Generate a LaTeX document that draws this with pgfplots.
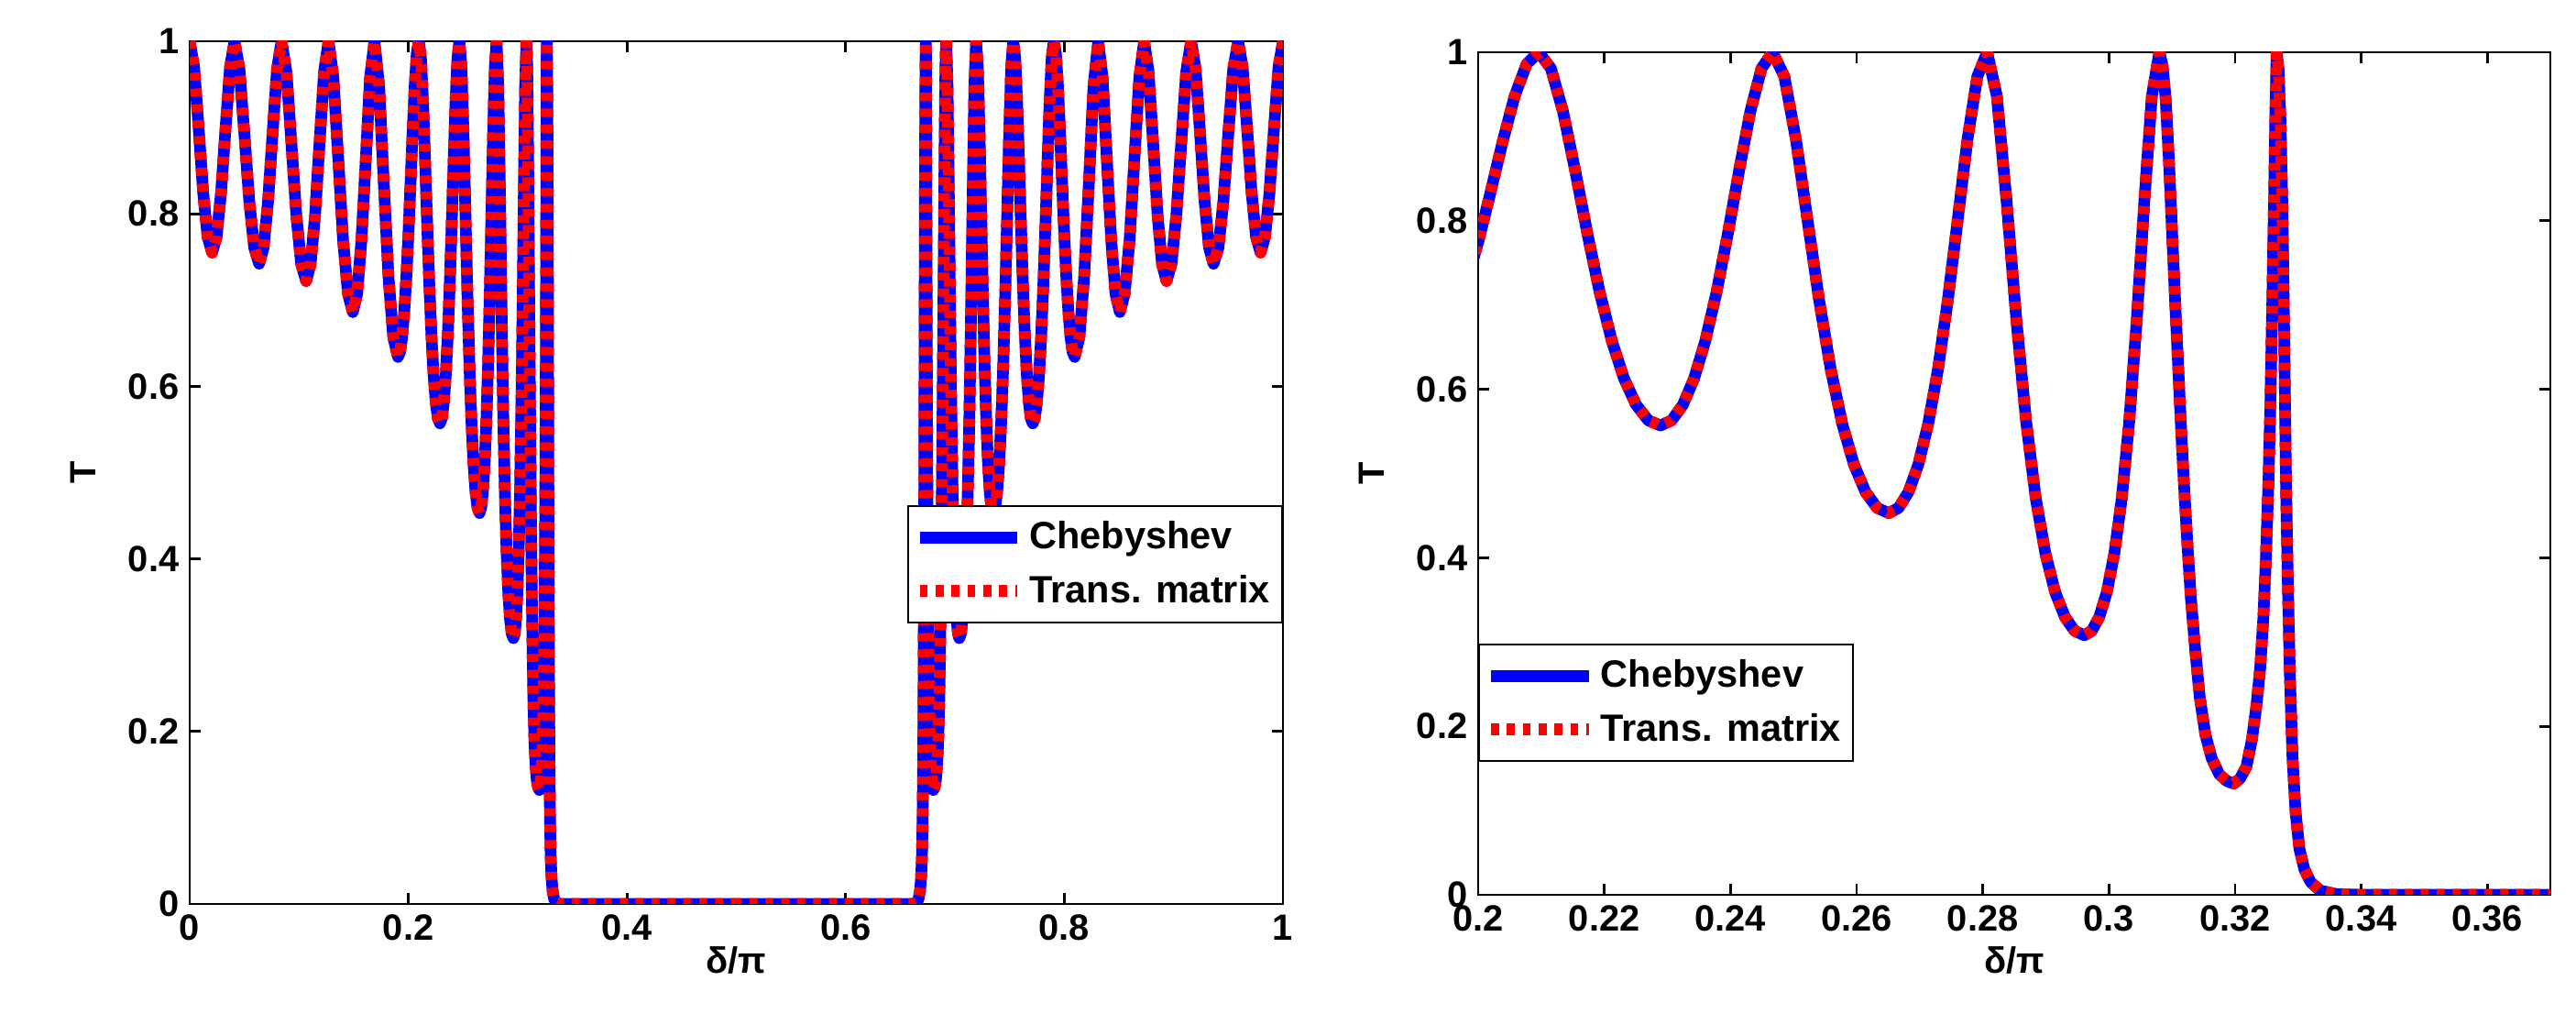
\documentclass[border=0pt]{standalone}
\usepackage{fontspec}
\setmainfont{Liberation Sans}
\usepackage{pgfplots}
\pgfplotsset{compat=1.18}
\usepackage{pgfplotstable}

% Transmission T versus delta/pi in the first pass band (0 ... 1/3);
% the second pass band is its mirror image about delta/pi = 0.5
\pgfplotstableread{
d T
0.0000 1.0000
0.0041 0.9699
0.0082 0.8992
0.0123 0.8248
0.0164 0.7731
0.0205 0.7550
0.0246 0.7731
0.0287 0.8248
0.0328 0.8992
0.0369 0.9699
0.0410 1.0000
0.0455 0.9679
0.0500 0.8928
0.0545 0.8146
0.0590 0.7607
0.0635 0.7420
0.0676 0.7607
0.0717 0.8146
0.0758 0.8928
0.0799 0.9679
0.0840 1.0000
0.0885 0.9645
0.0930 0.8826
0.0975 0.7987
0.1020 0.7417
0.1065 0.7220
0.1106 0.7417
0.1147 0.7987
0.1188 0.8826
0.1229 0.9645
0.1270 1.0000
0.1314 0.9581
0.1359 0.8635
0.1403 0.7695
0.1448 0.7072
0.1492 0.6860
0.1532 0.7072
0.1571 0.7695
0.1611 0.8635
0.1650 0.9581
0.1690 1.0000
0.1733 0.9478
0.1776 0.8337
0.1819 0.7258
0.1862 0.6569
0.1905 0.6340
0.19241 0.6397
0.19432 0.6569
0.19623 0.6857
0.19814 0.7258
0.20005 0.7760
0.20196 0.8337
0.20387 0.8937
0.20578 0.9478
0.20769 0.9861
0.20960 1.0000
0.21153 0.9809
0.21346 0.9294
0.21539 0.8592
0.21732 0.7845
0.21925 0.7155
0.22118 0.6577
0.22311 0.6130
0.22504 0.5816
0.22697 0.5631
0.22890 0.5570
0.23068 0.5631
0.23246 0.5816
0.23424 0.6130
0.23602 0.6577
0.23780 0.7155
0.23958 0.7845
0.24136 0.8592
0.24314 0.9294
0.24492 0.9809
0.24670 1.0000
0.24854 0.9713
0.25038 0.8966
0.25222 0.8007
0.25406 0.7056
0.25590 0.6235
0.25774 0.5586
0.25958 0.5106
0.26142 0.4780
0.26326 0.4592
0.26510 0.4530
0.26666 0.4592
0.26822 0.4780
0.26978 0.5106
0.27134 0.5586
0.27290 0.6235
0.27446 0.7056
0.27602 0.8007
0.27758 0.8966
0.27914 0.9713
0.28070 1.0000
0.28224 0.9479
0.28378 0.8234
0.28532 0.6835
0.28686 0.5630
0.28840 0.4709
0.28994 0.4048
0.29148 0.3592
0.29302 0.3298
0.29456 0.3133
0.29610 0.3080
0.29729 0.3133
0.29848 0.3298
0.29967 0.3592
0.30086 0.4048
0.30205 0.4709
0.30324 0.5630
0.30443 0.6835
0.30562 0.8234
0.30681 0.9479
0.30800 1.0000
0.30850 0.9850
0.30900 0.9450
0.30950 0.8750
0.31000 0.7900
0.31050 0.7050
0.31100 0.6250
0.31150 0.5450
0.31200 0.4750
0.31250 0.4100
0.31300 0.3520
0.31370 0.2900
0.31440 0.2350
0.31530 0.1900
0.31630 0.1620
0.31750 0.1430
0.31870 0.1350
0.31980 0.1320
0.32080 0.1380
0.32180 0.1520
0.32270 0.1850
0.32340 0.2250
0.32400 0.2700
0.32450 0.3300
0.32490 0.4000
0.32530 0.4900
0.32560 0.5800
0.32590 0.7000
0.32620 0.8300
0.32640 0.9300
0.32660 1.0000
0.32690 0.9800
0.32720 0.9200
0.32750 0.8200
0.32780 0.6600
0.32810 0.4800
0.32840 0.3600
0.32870 0.2600
0.32910 0.1650
0.32960 0.0980
0.33020 0.0550
0.33100 0.0300
0.33200 0.0150
0.33350 0.0050
0.33600 0.0010
0.34000 0.0000
0.50000 0.0000
}\bandone

\definecolor{mblue}{rgb}{0,0,1}
\definecolor{mred}{rgb}{1,0,0}

\pgfplotsset{
  matlab/.style={
    scale only axis,
    ymin=0, ymax=1,
    ytick={0,0.2,0.4,0.6,0.8,1},
    tick align=inside,
    major tick length=3.6bp,
    axis line style={line width=0.8bp, black},
    every tick/.style={line width=0.8bp, black},
    /pgf/number format/assume math mode=true,
    ticklabel style={font=\fontsize{12}{14}\selectfont\bfseries},
    label style={font=\fontsize{12}{14}\selectfont\bfseries},
    xlabel={δ/π},
    ylabel={T},
    xlabel style={at={(axis description cs:0.5,0)}, anchor=center},
    ylabel style={at={(axis description cs:0,0.5)}, anchor=center, yshift=35bp},
    legend cell align=left,
    legend style={draw=black, line width=0.6bp, fill=white,
      font=\fontsize{12.5}{15}\selectfont\bfseries,
      inner xsep=2bp, inner ysep=3bp, row sep=3bp,
      cells={anchor=west}},
    legend image code/.code={\draw[##1] (0bp,0bp) -- (32bp,0bp);},
  },
  cheb/.style={mblue, line width=3.8bp, line join=round},
  trans/.style={mred, line width=3.8bp, line join=round, dash pattern=on 2.6bp off 2.6bp},
}

\begin{document}
\begin{tikzpicture}
\useasboundingbox (0,0) rectangle (843.3bp,335.4bp);

\begin{axis}[matlab,
  at={(62.1bp,39.6bp)}, anchor=south west,
  width=357.9bp, height=282.3bp,
  xmin=0, xmax=1,
  xtick={0,0.2,0.4,0.6,0.8,1},
  xlabel style={yshift=-18.5bp},
  legend style={at={(axis description cs:1,0.462)}, anchor=north east},
]
\addplot[cheb] table[x=d, y=T] {\bandone};
\addplot[cheb, forget plot] table[x expr={1-\thisrow{d}}, y=T] {\bandone};
\addplot[trans] table[x=d, y=T] {\bandone};
\addplot[trans, forget plot] table[x expr={1-\thisrow{d}}, y=T] {\bandone};
\legend{Chebyshev, Trans. matrix}
\end{axis}

\begin{axis}[matlab,
  at={(483.9bp,42.6bp)}, anchor=south west,
  width=351bp, height=275.7bp,
  xmin=0.2, xmax=0.37,
  xtick={0.2,0.22,0.24,0.26,0.28,0.3,0.32,0.34,0.36},
  xlabel style={yshift=-21.5bp},
  legend style={at={(axis description cs:0,0.298)}, anchor=north west},
]
\addplot[cheb] table[x=d, y=T] {\bandone};
\addplot[trans] table[x=d, y=T] {\bandone};
\legend{Chebyshev, Trans. matrix}
\end{axis}
\end{tikzpicture}
\end{document}
